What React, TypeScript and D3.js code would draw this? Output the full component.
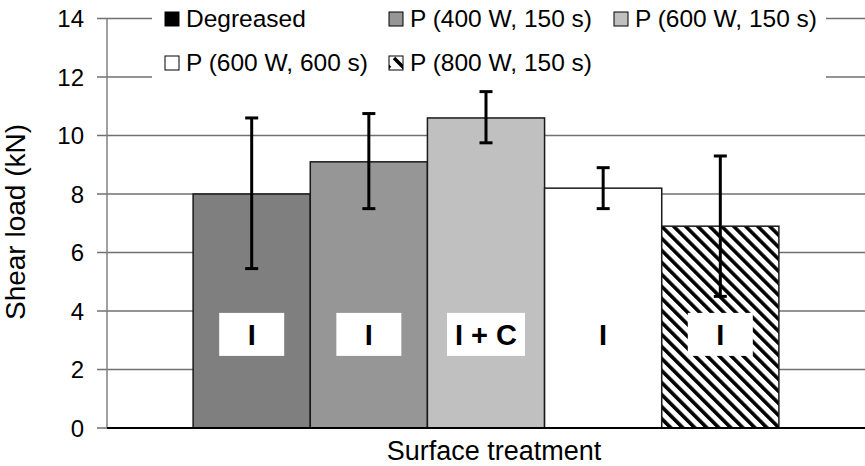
import React from "react";
import * as d3 from "d3";

const series = ["Degreased", "P (400 W, 150 s)", "P (600 W, 150 s)", "P (600 W, 600 s)", "P (800 W, 150 s)"];
const values = [8.0, 9.1, 10.6, 8.2, 6.9];
const errLow = [5.45, 7.5, 9.75, 7.5, 4.5];
const errHigh = [10.6, 10.75, 11.5, 8.9, 9.3];
const barLabels = ["I", "I", "I + C", "I", "I"];
const yTicks = [0, 2, 4, 6, 8, 10, 12, 14];
const fills = ["#7f7f7f", "#969696", "#c0c0c0", "#ffffff", "url(#hatch)"];
const legendFills = ["#000000", "#969696", "#c0c0c0", "#ffffff", "url(#hatchL)"];

const W = 865, H = 466;
const m = { left: 107, right: 865, top: 18.5, bottom: 428 };
const font = "'Liberation Sans', Arial, sans-serif";

export default function App() {
  const y = d3.scaleLinear().domain([0, 14]).range([m.bottom, m.top]);
  const x0 = d3.scaleBand().domain(["Surface treatment"]).range([m.left, m.right]).paddingInner(0).paddingOuter(0.147);
  const x1 = d3.scaleBand().domain(series).range([0, x0.bandwidth()]).padding(0);
  const bx = (i: number) => (x0("Surface treatment") as number) + (x1(series[i]) as number);
  const bw = x1.bandwidth();

  const legendPos = [
    { x: 165, y: 19 }, { x: 389, y: 19 }, { x: 614, y: 19 },
    { x: 165, y: 63 }, { x: 389, y: 63 },
  ];

  return (
    <svg width={W} height={H} style={{ position: "absolute", left: 0, top: 0, background: "#fff" }} fontFamily={font}>
      <defs>
        <pattern id="hatch" patternUnits="userSpaceOnUse" width="8.5" height="8.5" patternTransform="rotate(-45)">
          <rect width="8.5" height="8.5" fill="#fff" />
          <rect x="0" y="0" width="3.6" height="8.5" fill="#000" />
        </pattern>
        <pattern id="hatchL" patternUnits="userSpaceOnUse" width="14" height="14">
          <rect width="14" height="14" fill="#fff" />
          <line x1="2" y1="2" x2="12" y2="12" stroke="#000" strokeWidth="3.5" />
        </pattern>
      </defs>
      {/* gridlines */}
      {yTicks.map((t) => (
        <line key={t} x1={m.left - 10} x2={m.right} y1={y(t)} y2={y(t)} stroke="#707070" strokeWidth={1.3} />
      ))}
      {/* y axis */}
      <line x1={m.left} x2={m.left} y1={y(14)} y2={y(0)} stroke="#808080" strokeWidth={1.5} />
      {yTicks.map((t) => (
        <text key={t} x={84} y={y(t)} dy="0.36em" textAnchor="end" fontSize={24} fill="#000">{t}</text>
      ))}
      {/* legend background */}
      <rect x={152} y={0} width={674} height={84} fill="#fff" />
      {series.map((s, i) => (
        <g key={s}>
          <rect x={legendPos[i].x} y={legendPos[i].y - 7} width={14} height={14} fill={legendFills[i]} stroke="#000" strokeWidth={1} />
          <text x={legendPos[i].x + 21} y={legendPos[i].y - 1} dy="0.36em" fontSize={24.5} fill="#000">{s}</text>
        </g>
      ))}
      {/* bars */}
      {series.map((s, i) => (
        <rect key={s} x={bx(i)} y={y(values[i])} width={bw} height={y(0) - y(values[i])} fill={fills[i]} stroke="#1a1a1a" strokeWidth={1.5} />
      ))}
      {/* labels */}
      {series.map((s, i) => {
        const cx = bx(i) + bw / 2;
        const cy = y(3.2);
        const tw = barLabels[i].length > 1 ? 78 : 65;
        return (
          <g key={s}>
            <rect x={cx - tw / 2} y={cy - 21.5} width={tw} height={43} fill="#fff" />
            <text x={cx} y={cy} dy="0.36em" textAnchor="middle" fontSize={29} fontWeight="bold" fill="#000">{barLabels[i]}</text>
          </g>
        );
      })}
      {/* error bars */}
      {series.map((s, i) => {
        const cx = bx(i) + bw / 2;
        return (
          <g key={s} stroke="#000" strokeWidth={3}>
            <line x1={cx} x2={cx} y1={y(errHigh[i])} y2={y(errLow[i])} />
            <line x1={cx - 6.5} x2={cx + 6.5} y1={y(errHigh[i])} y2={y(errHigh[i])} />
            <line x1={cx - 6.5} x2={cx + 6.5} y1={y(errLow[i])} y2={y(errLow[i])} />
          </g>
        );
      })}
      {/* x axis */}
      <line x1={m.left} x2={m.right} y1={y(0)} y2={y(0)} stroke="#000" strokeWidth={2} />
      <text x={(m.left + m.right) / 2 + 8} y={450} dy="0.36em" textAnchor="middle" fontSize={27} fill="#000">Surface treatment</text>
      <text transform={`translate(15, 222) rotate(-90)`} dy="0.36em" textAnchor="middle" fontSize={28} fill="#000">Shear load (kN)</text>
    </svg>
  );
}
